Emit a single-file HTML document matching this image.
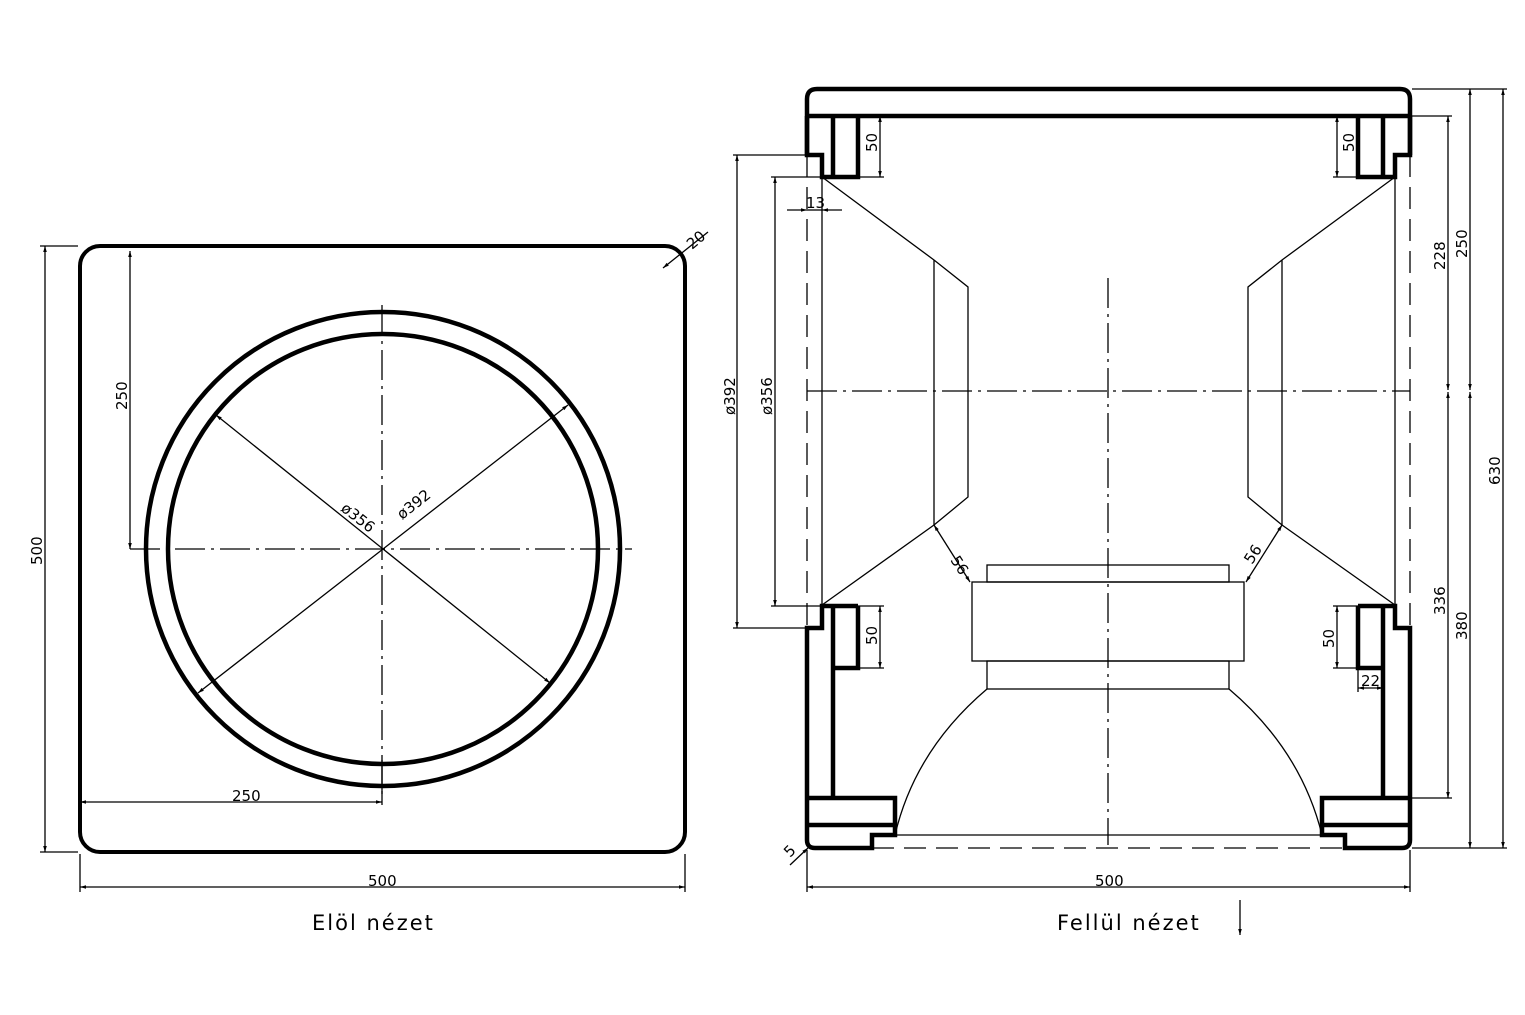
<!DOCTYPE html>
<html><head><meta charset="utf-8"><style>html,body{margin:0;padding:0;background:#fff}svg{display:block}</style></head>
<body>
<svg width="1525" height="1015" viewBox="0 0 1525 1015" xmlns="http://www.w3.org/2000/svg" font-family="'DejaVu Sans','Liberation Sans',sans-serif">
<defs>
<marker id="a" viewBox="0 0 10 10" refX="10" refY="5" markerWidth="10" markerHeight="6" orient="auto-start-reverse" markerUnits="userSpaceOnUse"><path d="M0,2 L10,5 L0,8 z" fill="#000"/></marker>
</defs>
<g fill="none" stroke="#000">
<!-- LEFT VIEW -->
<rect x="80" y="246" width="605" height="606" rx="20" stroke-width="4"/>
<circle cx="383" cy="549" r="237" stroke-width="4.5"/>
<circle cx="383" cy="549" r="215" stroke-width="4.5"/>
<g stroke-width="1.3" stroke-dasharray="30,6,3,6">
<line x1="130" y1="549" x2="632" y2="549"/>
<line x1="382" y1="305" x2="382" y2="795"/>
</g>
<g stroke-width="1.3">
<line x1="216" y1="415" x2="550" y2="683" marker-start="url(#a)" marker-end="url(#a)"/>
<line x1="568" y1="405" x2="198" y2="693" marker-start="url(#a)" marker-end="url(#a)"/>
<!-- 500 vertical -->
<line x1="40" y1="246" x2="78" y2="246"/><line x1="40" y1="852" x2="78" y2="852"/>
<line x1="45" y1="246" x2="45" y2="852" marker-start="url(#a)" marker-end="url(#a)"/>
<!-- 250 vertical -->
<line x1="130" y1="251" x2="130" y2="549" marker-start="url(#a)" marker-end="url(#a)"/>
<!-- 250 horiz -->
<line x1="80" y1="802" x2="382" y2="802" marker-start="url(#a)" marker-end="url(#a)"/>
<line x1="382" y1="760" x2="382" y2="805"/>
<!-- 500 horiz -->
<line x1="80" y1="854" x2="80" y2="892"/><line x1="685" y1="854" x2="685" y2="892"/>
<line x1="80" y1="887" x2="685" y2="887" marker-start="url(#a)" marker-end="url(#a)"/>
<!-- R20 -->
<line x1="663" y1="268" x2="708" y2="232" marker-start="url(#a)"/>
</g>
<!-- RIGHT VIEW outline -->
<g stroke-width="4.5" stroke-linejoin="miter">
<path d="M807,155 L807,99 Q807,89 817,89 L1400,89 Q1410,89 1410,99 L1410,155"/>
<line x1="807" y1="116" x2="1410" y2="116"/>
<path d="M807,116 L807,155 L822,155 L822,177 L858,177 L858,116"/>
<line x1="833" y1="116" x2="833" y2="177"/>
<path d="M1410,116 L1410,155 L1395,155 L1395,177 L1358,177 L1358,116"/>
<line x1="1383" y1="116" x2="1383" y2="177"/>
<!-- lower left -->
<path d="M858,606 L822,606 L822,628 L807,628 L807,840 Q807,848 815,848 L872,848 L872,835 L895,835 L895,798 L807,798"/>
<line x1="807" y1="825" x2="895" y2="825"/>
<path d="M858,606 L858,668 L833,668"/>
<line x1="833" y1="606" x2="833" y2="798"/>
<!-- lower right -->
<path d="M1358,606 L1395,606 L1395,628 L1410,628 L1410,840 Q1410,848 1402,848 L1345,848 L1345,835 L1322,835 L1322,798 L1410,798"/>
<line x1="1322" y1="825" x2="1410" y2="825"/>
<path d="M1358,606 L1358,668 L1383,668"/>
<line x1="1383" y1="606" x2="1383" y2="798"/>
</g>
<!-- speaker -->
<g stroke-width="1.3">
<path d="M822,177 L934,260 L968,287 L968,497 L934,525 L822,605"/>
<line x1="934" y1="260" x2="934" y2="525"/>
<line x1="822" y1="177" x2="822" y2="605"/>
<path d="M1395,177 L1282,260 L1248,287 L1248,497 L1282,525 L1395,605"/>
<line x1="1282" y1="260" x2="1282" y2="525"/>
<line x1="1395" y1="177" x2="1395" y2="605"/>
<rect x="972" y="582" width="272" height="79"/>
<rect x="987" y="565" width="242" height="17"/>
<rect x="987" y="661" width="242" height="28"/>
<path d="M987,689 Q915,750 895,835"/>
<path d="M1229,689 Q1301,750 1322,835"/>
<line x1="895" y1="835" x2="1322" y2="835"/>
<!-- 56 dims -->
<line x1="934" y1="525" x2="970" y2="582" marker-start="url(#a)" marker-end="url(#a)"/>
<line x1="1282" y1="525" x2="1246" y2="582" marker-start="url(#a)" marker-end="url(#a)"/>
</g>
<g stroke-width="1.3" stroke-dasharray="22,10">
<line x1="807" y1="155" x2="807" y2="628"/>
<line x1="1410" y1="155" x2="1410" y2="628"/>
<line x1="872" y1="848" x2="1345" y2="848"/>
</g>
<g stroke-width="1.3" stroke-dasharray="30,6,3,6">
<line x1="807" y1="391" x2="1410" y2="391"/>
<line x1="1108" y1="278" x2="1108" y2="845"/>
</g>
<g stroke-width="1.3">
<!-- 50s -->
<line x1="880" y1="116" x2="880" y2="177" marker-start="url(#a)" marker-end="url(#a)"/>
<line x1="858" y1="177" x2="884" y2="177"/>
<line x1="880" y1="606" x2="880" y2="668" marker-start="url(#a)" marker-end="url(#a)"/>
<line x1="858" y1="606" x2="884" y2="606"/><line x1="858" y1="668" x2="884" y2="668"/>
<line x1="1337" y1="116" x2="1337" y2="177" marker-start="url(#a)" marker-end="url(#a)"/>
<line x1="1333" y1="177" x2="1358" y2="177"/>
<line x1="1337" y1="606" x2="1337" y2="668" marker-start="url(#a)" marker-end="url(#a)"/>
<line x1="1333" y1="606" x2="1358" y2="606"/><line x1="1333" y1="668" x2="1358" y2="668"/>
<!-- 22 -->
<line x1="1358" y1="688" x2="1383" y2="688" marker-start="url(#a)" marker-end="url(#a)"/>
<line x1="1358" y1="668" x2="1358" y2="692"/>
<!-- 13 -->
<line x1="787" y1="210" x2="807" y2="210" marker-end="url(#a)"/>
<line x1="842" y1="210" x2="822" y2="210" marker-end="url(#a)"/>
<line x1="807" y1="210" x2="822" y2="210"/>
<!-- 392 / 356 -->
<line x1="733" y1="155" x2="805" y2="155"/><line x1="733" y1="628" x2="805" y2="628"/>
<line x1="737" y1="155" x2="737" y2="628" marker-start="url(#a)" marker-end="url(#a)"/>
<line x1="771" y1="177" x2="820" y2="177"/><line x1="771" y1="606" x2="820" y2="606"/>
<line x1="775" y1="177" x2="775" y2="606" marker-start="url(#a)" marker-end="url(#a)"/>
<!-- right dims -->
<line x1="1412" y1="89" x2="1507" y2="89"/>
<line x1="1412" y1="116" x2="1452" y2="116"/>
<line x1="1412" y1="798" x2="1452" y2="798"/>
<line x1="1412" y1="848" x2="1507" y2="848"/>
<line x1="1448" y1="116" x2="1448" y2="390" marker-start="url(#a)" marker-end="url(#a)"/>
<line x1="1448" y1="392" x2="1448" y2="798" marker-start="url(#a)" marker-end="url(#a)"/>
<line x1="1470" y1="89" x2="1470" y2="390" marker-start="url(#a)" marker-end="url(#a)"/>
<line x1="1470" y1="392" x2="1470" y2="848" marker-start="url(#a)" marker-end="url(#a)"/>
<line x1="1503" y1="89" x2="1503" y2="848" marker-start="url(#a)" marker-end="url(#a)"/>
<!-- bottom 500 -->
<line x1="807" y1="850" x2="807" y2="892"/><line x1="1410" y1="850" x2="1410" y2="892"/>
<line x1="807" y1="887" x2="1410" y2="887" marker-start="url(#a)" marker-end="url(#a)"/>
<!-- 5 -->
<line x1="790" y1="865" x2="808" y2="848" marker-end="url(#a)"/>
<!-- view arrow -->
<line x1="1240" y1="900" x2="1240" y2="935" marker-end="url(#a)"/>
</g>
</g>
<g fill="#000" font-size="15">
<text x="232" y="801">250</text>
<text x="368" y="886">500</text>
<text x="1095" y="886">500</text>
<text transform="translate(127,410) rotate(-90)">250</text>
<text transform="translate(42,565) rotate(-90)">500</text>
<text transform="translate(692,250) rotate(-40)">20</text>
<text transform="translate(340,510) rotate(38)">ø356</text>
<text transform="translate(402,520) rotate(-38)">ø392</text>
<text transform="translate(877,152) rotate(-90)">50</text>
<text transform="translate(877,645) rotate(-90)">50</text>
<text transform="translate(1354,152) rotate(-90)">50</text>
<text transform="translate(1334,648) rotate(-90)">50</text>
<text x="1361" y="686">22</text>
<text x="806" y="208">13</text>
<text transform="translate(735,415) rotate(-90)">ø392</text>
<text transform="translate(772,415) rotate(-90)">ø356</text>
<text transform="translate(1445,270) rotate(-90)">228</text>
<text transform="translate(1467,258) rotate(-90)">250</text>
<text transform="translate(1445,615) rotate(-90)">336</text>
<text transform="translate(1467,640) rotate(-90)">380</text>
<text transform="translate(1500,485) rotate(-90)">630</text>
<text transform="translate(950,560) rotate(57)">56</text>
<text transform="translate(1252,565) rotate(-57)">56</text>
<text transform="translate(790,858) rotate(-45)">5</text>
<text x="312" y="930" font-size="21" letter-spacing="2">Elöl nézet</text>
<text x="1057" y="930" font-size="21" letter-spacing="2">Fellül nézet</text>
</g>
</svg>
</body></html>
